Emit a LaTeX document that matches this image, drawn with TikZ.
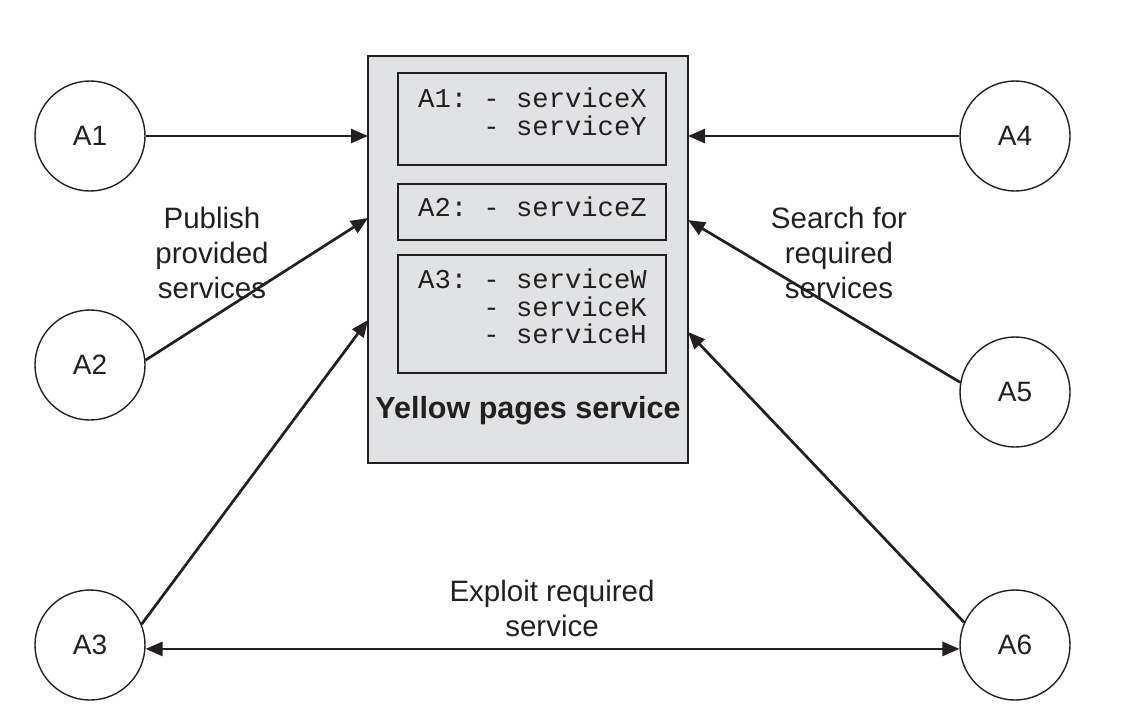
\documentclass[tikz,border=0pt]{standalone}
\usepackage{fontspec}
\setmainfont{Liberation Sans}
\newfontfamily\monofont{Liberation Mono}
\usetikzlibrary{arrows.meta}
\definecolor{boxgray}{RGB}{225,226,228}
\definecolor{ink}{RGB}{35,31,32}
\frenchspacing
\begin{document}
\begin{tikzpicture}[x=1pt,y=-1pt,
  agent/.style={circle,draw=ink,line width=1.4pt,minimum size=110pt,inner sep=0pt,font=\fontsize{28}{30}\selectfont,text=ink},
  ypbox/.style={draw=ink,line width=2pt,fill=boxgray},
  svcbox/.style={draw=ink,line width=2pt},
  svc/.style={font=\monofont\fontsize{27.2}{27.5}\selectfont,text=ink,align=left,anchor=north west,inner sep=0pt},
  lbl/.style={font=\fontsize{29.5}{35}\selectfont,text=ink,align=center},
  conn/.style={draw=ink,line width=2.7pt,-{Triangle[length=17pt,width=14pt]}},
  conn2/.style={draw=ink,line width=2.7pt,{Triangle[length=17pt,width=14pt]}-{Triangle[length=17pt,width=14pt]}}]
\useasboundingbox (0,0) rectangle (1121,724);
% yellow pages box
\draw[ypbox] (368,56) rectangle (688,463);
\draw[svcbox] (398,73) rectangle (666,165);
\draw[svcbox] (398,184) rectangle (666,240);
\draw[svcbox] (398,255) rectangle (666,373);
\node[svc] (s1) at (418,88) {A1: - serviceX\\\phantom{A1: }- serviceY};
\node[svc] (s2) at (418,197) {A2: - serviceZ};
\node[svc] (s3) at (418,269) {A3: - serviceW\\\phantom{A3: }- serviceK\\\phantom{A3: }- serviceH};
\node[font=\bfseries\fontsize{30.5}{32}\selectfont,text=ink] (yp) at (528,411) {Yellow pages service};
% agents
\node[agent] (A1) at (90,136) {A1};
\node[agent] (A2) at (90,365) {A2};
\node[agent] (A3) at (90,645) {A3};
\node[agent] (A4) at (1015,136) {A4};
\node[agent] (A5) at (1015,392) {A5};
\node[agent] (A6) at (1015,645) {A6};
% targets on box edges
\coordinate (t1) at (368,136);
\coordinate (t2) at (368,218);
\coordinate (t3) at (368,320);
\coordinate (t4) at (688,136);
\coordinate (t5) at (688,220);
\coordinate (t6) at (688,332);
% connectors
\draw[conn] (A1.east) -- (t1);
\draw[conn] (A2.5) -- (t2);
\draw[conn] (A3.22) -- (t3);
\draw[conn] (A4.west) -- (t4);
\draw[conn] (A5.170) -- (t5);
\draw[conn] (A6.156) -- (t6);
\draw[conn2] (A3.-4) -- (A6.184);
% labels
\node[lbl] (l1) at (212,253) {Publish\\provided\\services};
\node[lbl] (l2) at (839,253) {Search for\\required\\services};
\node[lbl] (l3) at (552,608) {Exploit required\\service};
\end{tikzpicture}
\end{document}
